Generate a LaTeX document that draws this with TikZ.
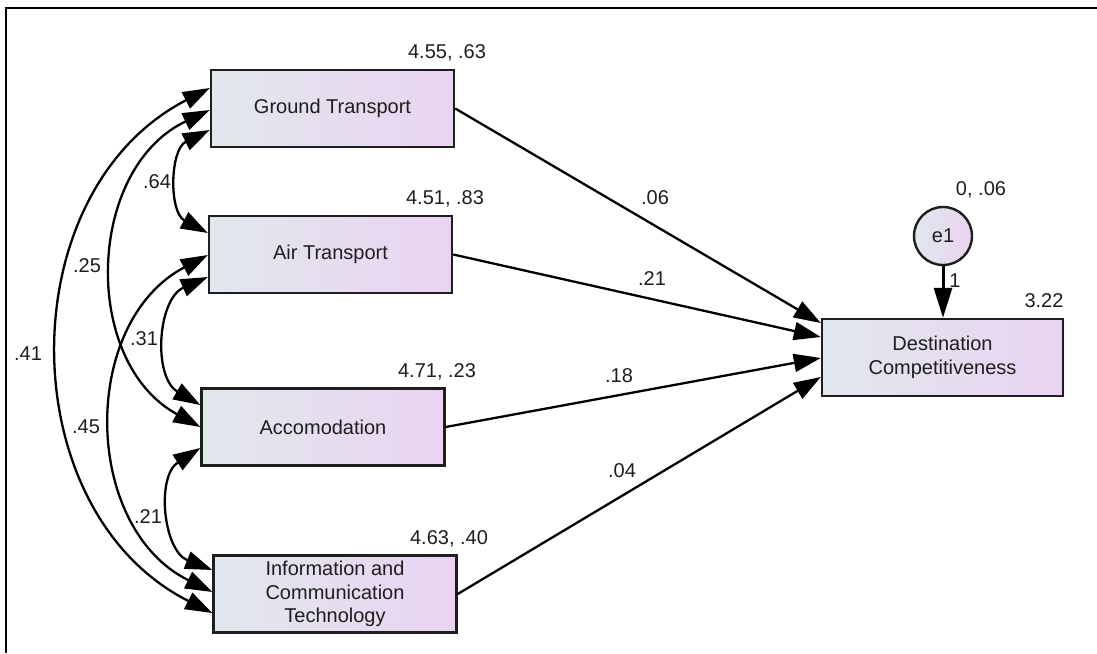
\documentclass[tikz,border=0pt]{standalone}
\usepackage{fontspec}
\setmainfont{Liberation Sans}
\usetikzlibrary{arrows.meta,calc}
\definecolor{boxL}{HTML}{E1E8EC}
\definecolor{boxR}{HTML}{EAD3F2}
\definecolor{ink}{HTML}{1E1E1E}
\begin{document}
\begin{tikzpicture}[x=1pt,y=-1pt,
  var/.style={draw=ink, line width=2.4pt, left color=boxL, right color=boxR,
    minimum width=243pt, minimum height=77pt, inner sep=0pt, align=center,
    font=\fontsize{20}{23.5}\selectfont, text=ink},
  errvar/.style={circle, draw=ink, line width=2.4pt, left color=boxL, right color=boxR,
    minimum size=58pt, inner sep=0pt, font=\fontsize{20}{23.5}\selectfont, text=ink},
  lbl/.style={anchor=base, font=\fontsize{20}{24}\selectfont, text=ink, inner sep=0pt},
  regarrow/.style={draw=black, line width=2.3pt, -{Triangle[length=27pt,width=18pt]}},
  cov/.style={draw=black, line width=2.3pt,
    {Triangle[length=27pt,width=18pt]}-{Triangle[length=27pt,width=18pt]},
    bend right=63, looseness=1.1},
]
\useasboundingbox (0,0) rectangle (1097,653);
\fill[white] (0,0) rectangle (1097,653);
% frame
\draw[line width=2.5pt] (6,653) -- (6,8) -- (1097,8);

% nodes
\node[var] (GT) at (332.5,108.5) {Ground Transport};
\node[var] (AT) at (330.5,254.5) {Air Transport};
\node[var] (AC) at (323,427) {Accomodation};
\node[var] (ICT) at (335,594) {Information and\\Communication\\Technology};
\node[var, minimum width=241pt] (DC) at (942.5,357.5) {Destination\\Competitiveness};
\node[errvar] (e1) at (943,236) {e1};

% regression paths
\draw[regarrow] (GT.east) -- ([yshift=34.5pt]DC.west);
\draw[regarrow] (AT.east) -- ([yshift=20.5pt]DC.west);
\draw[regarrow] (AC.east) -- ([yshift=-0.5pt]DC.west);
\draw[regarrow] (ICT.east) -- ([yshift=-19.5pt]DC.west);
\draw[line width=3pt, -{Triangle[length=30pt,width=18pt]}] (e1.south) -- (e1.south |- DC.north);

% covariances
\draw[cov] ([yshift=-21.5pt]GT.west) to ([yshift=21.5pt]AT.west);
\draw[cov] ([yshift=-1.5pt]GT.west) to ([yshift=0pt]AC.west);
\draw[cov] ([yshift=20.5pt]GT.west) to ([yshift=-19pt]ICT.west);
\draw[cov] ([yshift=-22.5pt]AT.west) to ([yshift=22pt]AC.west);
\draw[cov] ([yshift=-0.5pt]AT.west) to ([yshift=2pt]ICT.west);
\draw[cov] ([yshift=-21pt]AC.west) to ([yshift=24pt]ICT.west);

% labels
\node[lbl] (mGT) at (447,58) {4.55, .63};
\node[lbl] (mAT) at (445,204) {4.51, .83};
\node[lbl] (mAC) at (437,377) {4.71, .23};
\node[lbl] (mICT) at (449,544) {4.63, .40};
\node[lbl] (me1) at (981,195) {0, .06};
\node[lbl] (mDC) at (1044,307) {3.22};
\node[lbl] (w1) at (955,287) {1};

\node[lbl] (c64) at (157,188) {.64};
\node[lbl] (c25) at (87,272) {.25};
\node[lbl] (c41) at (28,360) {.41};
\node[lbl] (c31) at (144,345) {.31};
\node[lbl] (c45) at (86,433) {.45};
\node[lbl] (c21) at (148,523) {.21};

\node[lbl] (p06) at (655,204) {.06};
\node[lbl] (p21) at (652,285) {.21};
\node[lbl] (p18) at (619,382) {.18};
\node[lbl] (p04) at (622,477) {.04};
\end{tikzpicture}
\end{document}
